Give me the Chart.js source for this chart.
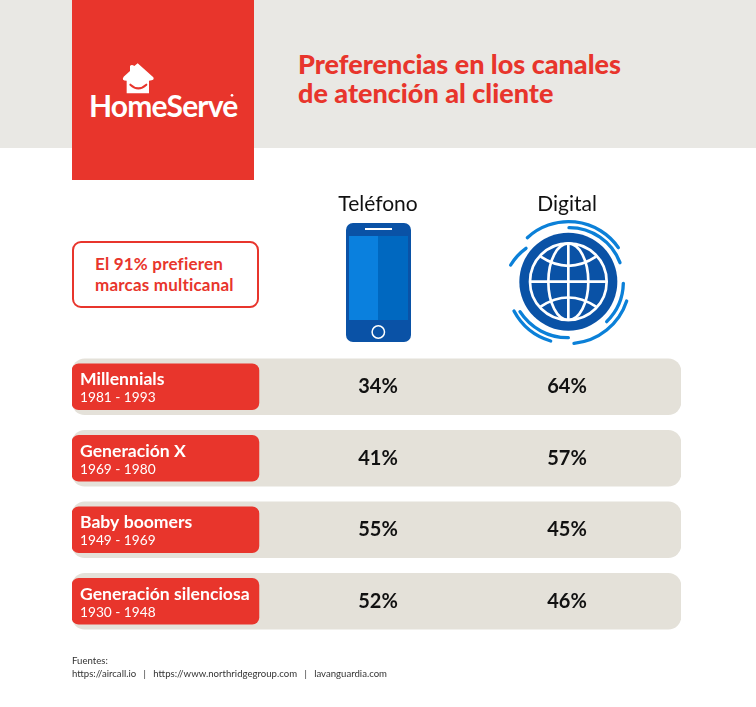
<!DOCTYPE html>
<html lang="es">
<head>
<meta charset="utf-8">
<title>Preferencias en los canales de atención al cliente</title>
<script src="https://cdn.jsdelivr.net/npm/chart.js@4"></script>
<style>
    html, body { margin: 0; padding: 0; background: #fff; }
    #pagina { position: relative; width: 756px; height: 707px; overflow: hidden; font-family: Lato, sans-serif; }
    #banda { position: absolute; left: 0; top: 0; width: 756px; height: 148px; background: #e9e8e4; }
    #marca { position: absolute; left: 72px; top: 0; width: 182px; height: 180px; background: #e8352c; }
    #logo { position: absolute; left: 89px; top: 85px; color: #fff; font-size: 30px; font-weight: 700; letter-spacing: -0.8px; line-height: 40px; }
    #titulo { position: absolute; left: 298px; top: 50px; margin: 0; color: #e8352c; font-size: 27px; line-height: 28.5px; font-weight: 900; }
    #aviso { position: absolute; left: 72px; top: 241px; width: 183px; height: 63px; border: 2px solid #e8352c; border-radius: 9px; }
    #aviso div { position: absolute; left: 21px; top: 10px; color: #e8352c; font-size: 17px; line-height: 21px; font-weight: 700; letter-spacing: 0.2px; white-space: nowrap; }
    #fuentes { position: absolute; left: 72px; top: 655px; color: #333; font-size: 9.6px; line-height: 12.5px; white-space: pre; }
    #grafico { position: absolute; left: 0; top: 0; }
    svg { position: absolute; }
</style>
</head>
<body>
<div id="pagina">
    <div id="banda"></div>
    <div id="marca"></div>
    <svg style="left:85px;top:60px" width="160" height="60" viewBox="0 0 480 180">
        <path d="M158 10 L205 52 Q210 62 192 62 L192 100 L125 100 L125 62 Q108 62 116 50 L135 33 L135 18 Q140 12 148 18 Z" fill="#fff"/>
        <path d="M136 74 Q160 96 184 74" fill="none" stroke="#e8352c" stroke-width="6" stroke-linecap="round"/>
        <circle cx="441" cy="106" r="4" fill="#fff"/>
    </svg>
    <div id="logo">HomeServe</div>
    <h1 id="titulo">Preferencias en los canales<br>de atención al cliente</h1>
    <div id="aviso"><div>El 91% prefieren<br>marcas multicanal</div></div>
    <canvas id="grafico" width="756" height="707"></canvas>
    <!-- iconos de los canales -->
    <svg style="left:346px;top:223px" width="65" height="119" viewBox="0 0 65 119">
        <rect x="0" y="0" width="65" height="119" rx="7" fill="#0a52a6"/>
        <rect x="3" y="13" width="29" height="84" fill="#0a80de"/>
        <rect x="32" y="13" width="30" height="84" fill="#0068c0"/>
        <rect x="19" y="5" width="27" height="2" fill="#fff"/>
        <circle cx="32.3" cy="109" r="6.2" fill="none" stroke="#fff" stroke-width="1.5"/>
    </svg>
    <svg style="left:500px;top:215px" width="135" height="135" viewBox="0 0 405 405">
        <g fill="none" stroke="#0b80d8" stroke-width="10" stroke-linecap="round">
            <path d="M32 150 A170 170 0 0 1 78 100"/>
            <path d="M82 68 A182 182 0 0 1 355 98"/>
            <path d="M207 38 A163 163 0 0 1 360 143"/>
            <path d="M370 205 A166 166 0 0 1 320 320"/>
            <path d="M380 258 A185 185 0 0 1 222 385"/>
            <path d="M42 288 A185 185 0 0 0 152 378"/>
            <path d="M60 290 A170 170 0 0 0 205 368"/>
        </g>
        <circle cx="205" cy="200" r="147" fill="#0a52a6"/>
        <g fill="none" stroke="#fff" stroke-width="8">
            <circle cx="205" cy="200" r="115"/>
            <ellipse cx="205" cy="200" rx="60" ry="115"/>
            <path d="M205 85 V315 M90 200 H320"/>
            <path d="M122 125 Q205 180 288 125"/>
            <path d="M122 275 Q205 220 288 275"/>
        </g>
    </svg>
    <div id="fuentes">Fuentes:
https://aircall.io   |   https://www.northridgegroup.com   |   lavanguardia.com</div>
</div>
<script>
const canales = ['Teléfono', 'Digital'];
const generaciones = ['Millennials', 'Generación X', 'Baby boomers', 'Generación silenciosa'];
const periodos = ['1981 - 1993', '1969 - 1980', '1949 - 1969', '1930 - 1948'];
const telefono = [34, 41, 55, 52];
const digital = [64, 57, 45, 46];

// el eje x va por columnas: 1 = Teléfono, 2 = Digital
const ejeMin = -0.619;
const ejeMax = 2.603;
const finEtiqueta = 0.37;

const rojo = '#e8352c';
const beige = '#e4e1d9';

const textosFilas = {
    id: 'textosFilas',
    afterDatasetsDraw(chart) {
        const ctx = chart.ctx;
        ctx.save();
        ctx.textBaseline = 'middle';
        [2, 3].forEach(function(indice) {
            const meta = chart.getDatasetMeta(indice);
            const valores = chart.data.datasets[indice].data;
            meta.data.forEach(function(punto, i) {
                ctx.font = '700 20px Lato';
                ctx.fillStyle = '#111';
                ctx.textAlign = 'center';
                ctx.fillText(valores[i].v + '%', punto.x, punto.y);
            });
        });
        const etiquetas = chart.getDatasetMeta(1);
        etiquetas.data.forEach(function(barra, i) {
            ctx.textAlign = 'left';
            ctx.fillStyle = '#fff';
            ctx.font = '700 17.6px Lato';
            ctx.fillText(generaciones[i], 80, barra.y - 7);
            ctx.font = '400 13.7px Lato';
            ctx.fillText(periodos[i], 80, barra.y + 11);
        });
        ctx.restore();
    }
};

function puntos(valores, columna) {
    return valores.map(function(v, i) {
        return { x: columna, y: generaciones[i], v: v };
    });
}

new Chart(document.getElementById('grafico'), {
    type: 'bar',
    data: {
        labels: generaciones,
        datasets: [
            {
                label: 'Fila',
                data: generaciones.map(() => [ejeMin, ejeMax]),
                backgroundColor: beige,
                barThickness: 56,
                borderRadius: 13,
                borderSkipped: false,
                grouped: false,
                order: 3
            },
            {
                label: 'Generación',
                data: generaciones.map(() => [ejeMin, finEtiqueta]),
                backgroundColor: rojo,
                barThickness: 46,
                borderRadius: 7,
                borderSkipped: false,
                grouped: false,
                order: 2
            },
            { type: 'scatter', label: canales[0], data: puntos(telefono, 1), pointRadius: 0, order: 1 },
            { type: 'scatter', label: canales[1], data: puntos(digital, 2), pointRadius: 0, order: 1 }
        ]
    },
    options: {
        indexAxis: 'y',
        responsive: false,
        animation: false,
        layout: { padding: { left: 72, right: 75, top: 191, bottom: 70 } },
        plugins: { legend: { display: false }, tooltip: { enabled: false } },
        scales: {
            x: {
                type: 'linear',
                position: 'top',
                min: ejeMin,
                max: ejeMax,
                afterBuildTicks: function(scale) {
                    scale.ticks = [{ value: 1 }, { value: 2 }];
                },
                // el alto del eje deja sitio a los iconos entre el rótulo y las filas
                afterFit: function(scale) {
                    scale.height = 160;
                },
                grid: { display: false, drawTicks: false },
                border: { display: false },
                ticks: {
                    autoSkip: false,
                    maxRotation: 0,
                    padding: 134,
                    color: '#111',
                    font: { family: 'Lato', size: 21, weight: '400' },
                    callback: function(valor) {
                        return canales[valor - 1];
                    }
                }
            },
            y: {
                type: 'category',
                display: false
            }
        }
    },
    plugins: [textosFilas]
});
</script>
</body>
</html>
